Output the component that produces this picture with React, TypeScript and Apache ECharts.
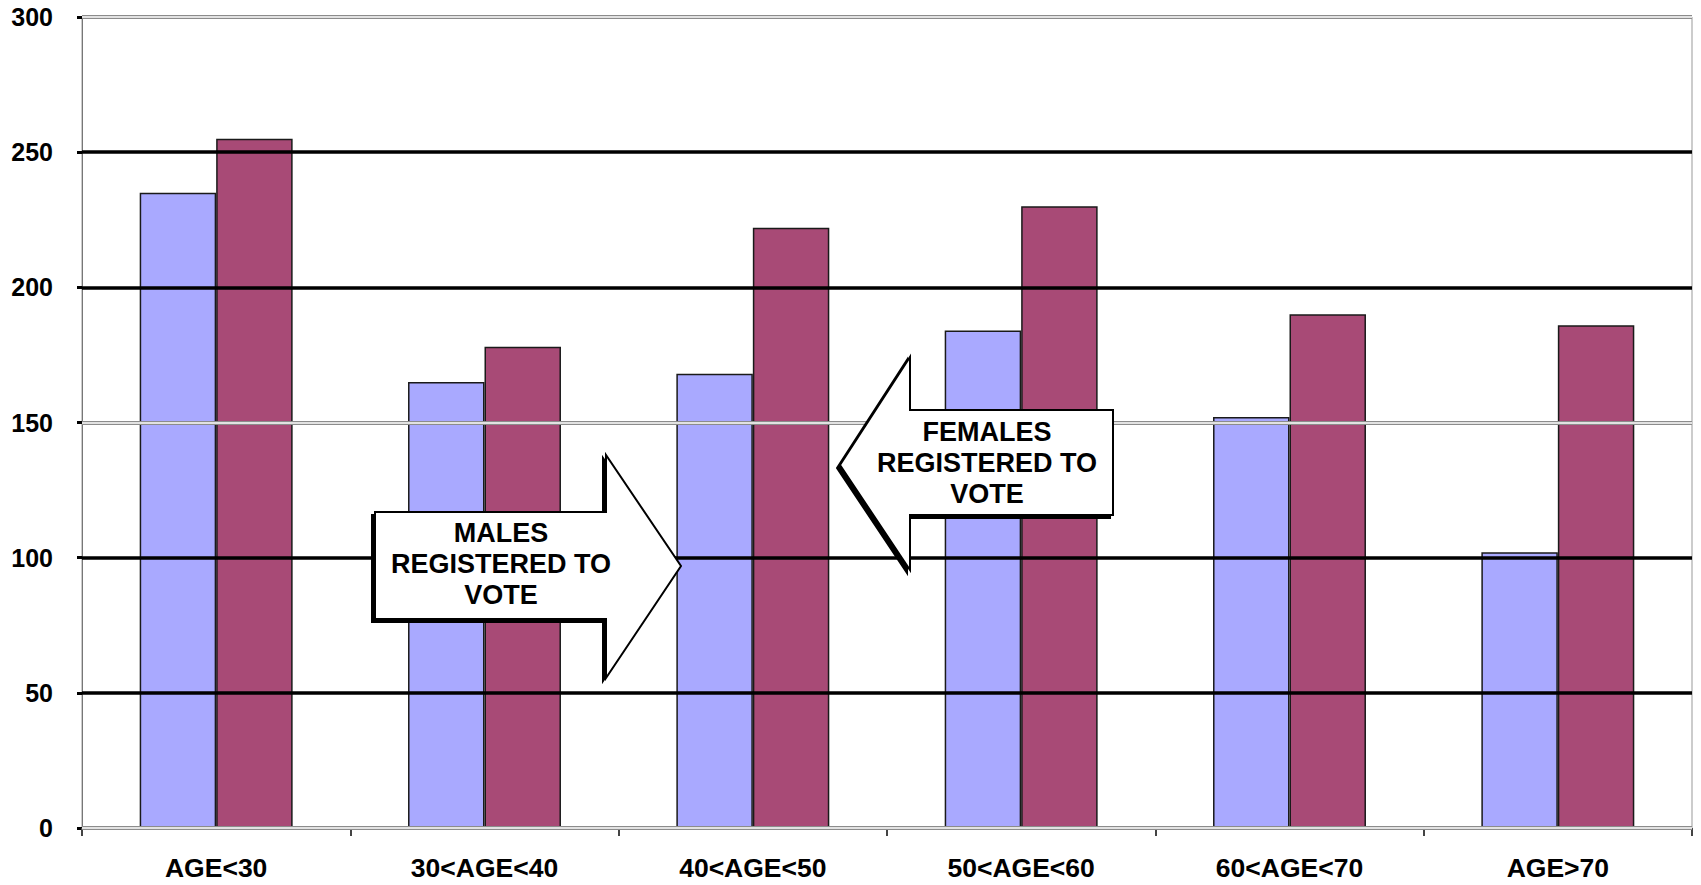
import React, { useEffect, useRef } from "react";
import * as echarts from "echarts";

const categories = ["AGE<30", "30<AGE<40", "40<AGE<50", "50<AGE<60", "60<AGE<70", "AGE>70"];
const males = [235, 165, 168, 184, 152, 102];
const females = [255, 178, 222, 230, 190, 186];
const blackGridValues = [50, 100, 200, 250];
const grayGridValues = [0, 150, 300];
const yMin = 0;
const yMax = 300;
const yStep = 50;

const FONT = "'Liberation Sans', Arial, Helvetica, sans-serif";

export default function App() {
  const ref = useRef<HTMLDivElement>(null);

  useEffect(() => {
    document.body.style.margin = "0";
    if (!ref.current) return;
    const chart = echarts.init(ref.current, undefined, { renderer: "svg" });

    const gridLines: any[] = [];
    blackGridValues.forEach((v) =>
      gridLines.push({ yAxis: v, lineStyle: { color: "#000", width: 3.5, type: "solid" } })
    );
    grayGridValues.forEach((v) =>
      gridLines.push({ yAxis: v, lineStyle: { color: "#8c8c8c", width: 4, type: "solid" } })
    );
    grayGridValues.forEach((v) =>
      gridLines.push({ yAxis: v, lineStyle: { color: "#fff", width: 1.6, type: "solid" } })
    );

    const arrowStyle = {
      fill: "#fff",
      stroke: "#000",
      lineWidth: 2,
      shadowColor: "rgba(0,0,0,1)",
      shadowBlur: 1,
      shadowOffsetX: -3,
      shadowOffsetY: 3,
    };
    const textStyle = {
      font: `bold 27px ${FONT}`,
      fill: "#000",
      align: "center",
      verticalAlign: "middle",
      lineHeight: 31,
    };

    chart.setOption({
      animation: false,
      backgroundColor: "#fff",
      grid: {
        left: 82,
        right: 9,
        top: 17,
        bottom: 57,
        show: true,
        borderColor: "#999",
        borderWidth: 1,
        containLabel: false,
      },
      xAxis: {
        type: "category",
        data: categories,
        axisLine: { show: true, lineStyle: { color: "#666", width: 1 } },
        axisTick: { show: true, length: 8, lineStyle: { color: "#444", width: 2 } },
        axisLabel: {
          fontFamily: FONT,
          fontWeight: "bold",
          fontSize: 26.5,
          color: "#000",
          margin: 26,
        },
        splitLine: { show: false },
      },
      yAxis: {
        type: "value",
        min: yMin,
        max: yMax,
        interval: yStep,
        axisLine: { show: true, lineStyle: { color: "#777", width: 1 } },
        axisTick: { show: true, length: 5, lineStyle: { color: "#000", width: 3 } },
        axisLabel: {
          fontFamily: FONT,
          fontWeight: "bold",
          fontSize: 25,
          color: "#000",
          margin: 29,
        },
        splitLine: { show: false },
      },
      series: [
        {
          type: "line",
          data: [],
          z: 1,
          silent: true,
          showSymbol: false,
          markLine: {
            silent: true,
            symbol: ["none", "none"],
            label: { show: false },
            animation: false,
            data: gridLines,
          },
        },
        {
          type: "bar",
          name: "Males",
          data: males,
          z: 3,
          barGap: "0%",
          barCategoryGap: "43%",
          itemStyle: {
            color: "#A9A9FF",
            borderColor: "#1a1a1a",
            borderWidth: 1.5,
          },
        },
        {
          type: "bar",
          name: "Females",
          data: females,
          z: 3,
          barGap: "0%",
          barCategoryGap: "43%",
          itemStyle: {
            color: "#A84A76",
            borderColor: "#1a1a1a",
            borderWidth: 1.5,
          },
        },
      ],
      graphic: [
        {
          type: "polygon",
          z: 100,
          shape: {
            points: [
              [375, 512],
              [606, 512],
              [606, 455],
              [681, 566],
              [606, 678],
              [606, 619],
              [375, 619],
            ],
          },
          style: arrowStyle,
        },
        {
          type: "text",
          z: 101,
          x: 501,
          y: 564,
          style: { ...textStyle, text: "MALES\nREGISTERED TO\nVOTE" },
        },
        {
          type: "polygon",
          z: 100,
          shape: {
            points: [
              [840, 465],
              [910, 357],
              [910, 410],
              [1113, 410],
              [1113, 515],
              [910, 515],
              [910, 570],
            ],
          },
          style: arrowStyle,
        },
        {
          type: "text",
          z: 101,
          x: 987,
          y: 463,
          style: { ...textStyle, text: "FEMALES\nREGISTERED TO\nVOTE" },
        },
      ],
    });

    return () => chart.dispose();
  }, []);

  return <div ref={ref} style={{ width: 1701, height: 885 }} />;
}
